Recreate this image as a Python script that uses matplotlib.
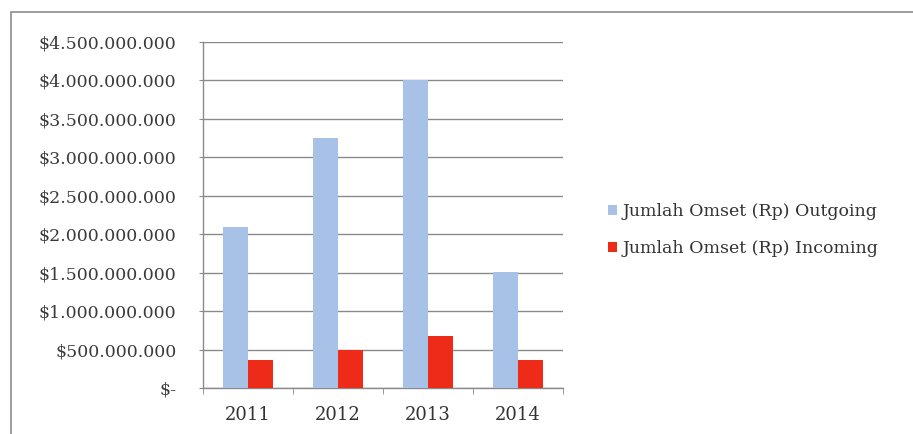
import matplotlib.pyplot as plt
import numpy as np
from matplotlib.patches import Rectangle
from matplotlib.ticker import FuncFormatter, MultipleLocator

years = ["2011", "2012", "2013", "2014"]
outgoing = [2.10e9, 3.25e9, 4.00e9, 1.51e9]
incoming = [0.36e9, 0.49e9, 0.67e9, 0.36e9]
labels = ["Jumlah Omset (Rp) Outgoing", "Jumlah Omset (Rp) Incoming"]

W, H = 913, 434
fig = plt.figure(figsize=(W / 100, H / 100), dpi=100)

# outer chart frame (top and left edges visible)
fig.patches.append(Rectangle((11 / W, -0.05), 1.0, (H - 12) / H + 0.05,
                             transform=fig.transFigure, fill=False,
                             edgecolor="#8c8c8c", linewidth=1.2))

ax = fig.add_axes([203 / W, 46 / H, 360 / W, 346 / H])
x = np.arange(len(years))
w = 0.28
ax.bar(x - w / 2, outgoing, w, color="#a7c2e6", label=labels[0], zorder=3)
ax.bar(x + w / 2, incoming, w, color="#ee2a18", label=labels[1], zorder=3)

ax.set_xlim(-0.5, len(years) - 0.5)
ax.set_ylim(0, 4.5e9)
ax.yaxis.set_major_locator(MultipleLocator(0.5e9))


def rupiah(v, pos):
    if v == 0:
        return "$-"
    return "$" + f"{int(round(v)):,}".replace(",", ".")


ax.yaxis.set_major_formatter(FuncFormatter(rupiah))
ax.grid(axis="y", color="#8a8a8a", linewidth=1.0, zorder=0)
ax.set_axisbelow(True)

ax.set_xticks(x)
ax.set_xticklabels(years, family="DejaVu Serif", fontsize=13, color="#333333")
ax.set_xticks(np.arange(len(years) + 1) - 0.5, minor=True)
ax.tick_params(axis="x", which="major", length=0, pad=13)
ax.tick_params(axis="x", which="minor", length=4, color="#8a8a8a")
ax.tick_params(axis="y", length=3, color="#8a8a8a", pad=16)
for t in ax.get_yticklabels():
    t.set_family("DejaVu Serif")
    t.set_fontsize(12.5)
    t.set_color("#3a3a3a")

for s in ["top", "right"]:
    ax.spines[s].set_visible(False)
for s in ["left", "bottom"]:
    ax.spines[s].set_color("#8a8a8a")
    ax.spines[s].set_linewidth(1.0)

fig.legend(loc="center left", bbox_to_anchor=(592 / W, (H - 230) / H),
           frameon=False, handlelength=0.55, handleheight=0.55,
           handletextpad=0.3, labelspacing=1.15,
           prop={"family": "DejaVu Serif", "size": 12.5}, labelcolor="#333333")

fig.savefig("out.png", dpi=100)
